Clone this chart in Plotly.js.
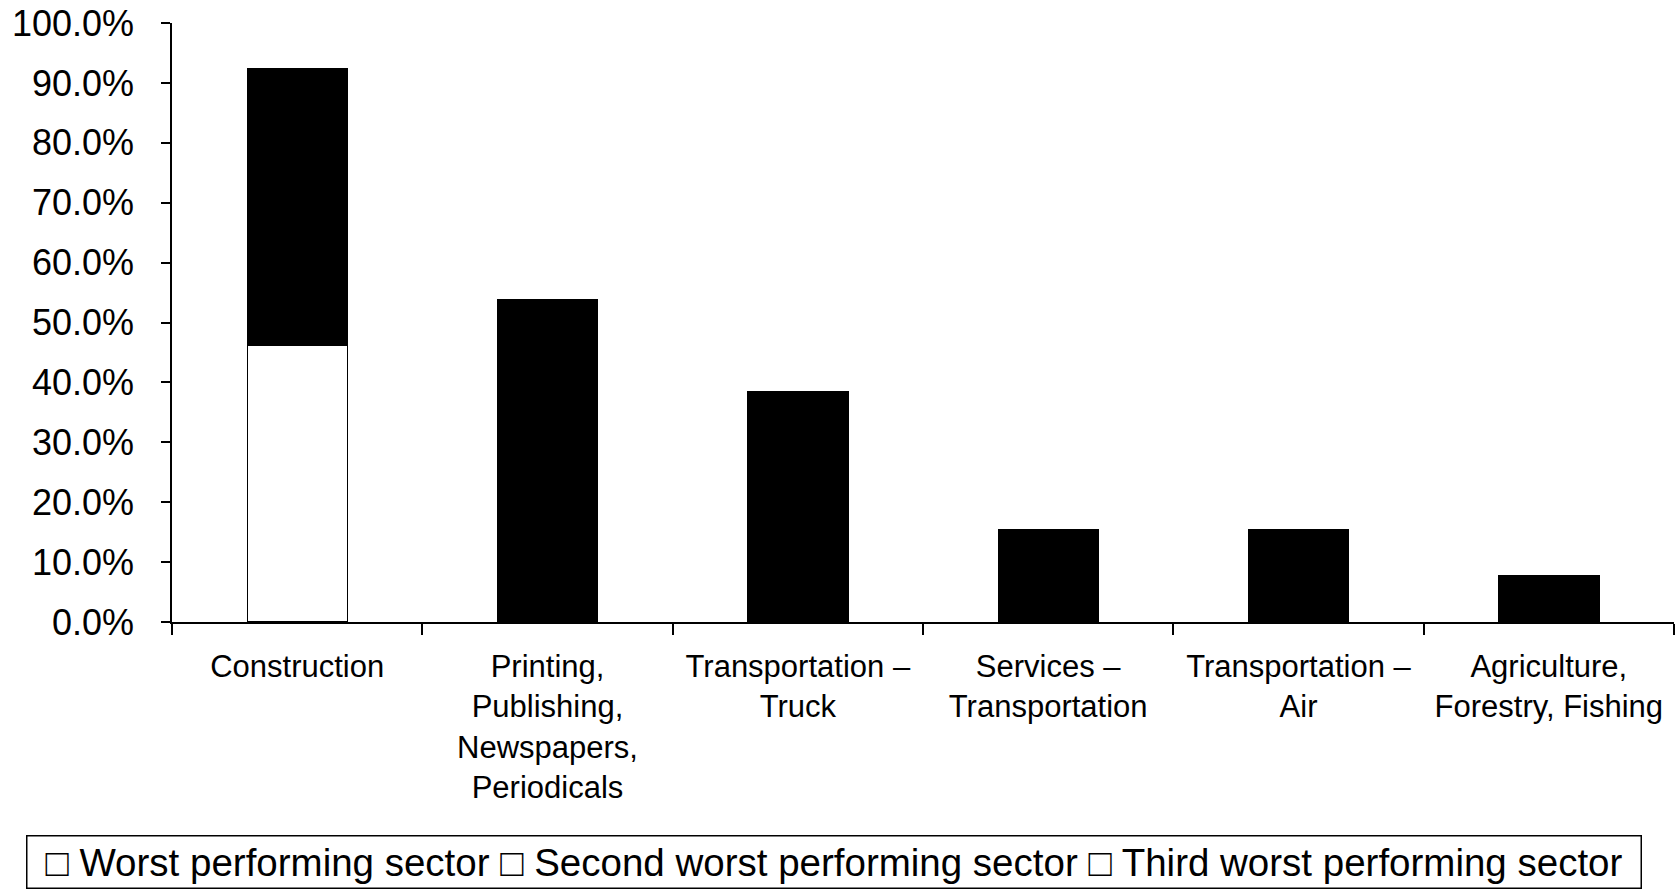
<!DOCTYPE html>
<html>
<head>
<meta charset="utf-8">
<script src="https://cdn.plot.ly/plotly-3.0.1.min.js"></script>
<style>
  html, body { margin: 0; padding: 0; background: #fff; }
  #chart_area { width: 1677px; height: 889px; }
</style>
</head>
<body>
<div id="chart_area"></div>
<script>
var sectors = [
  'Construction',
  'Printing,<br>Publishing,<br>Newspapers,<br>Periodicals',
  'Transportation \u2013<br>Truck',
  'Services \u2013<br>Transportation',
  'Transportation \u2013<br>Air',
  'Agriculture,<br>Forestry, Fishing'
];
var seriesNames = ['Worst performing sector', 'Second worst performing sector', 'Third worst performing sector'];
var worst  = [0.462, 0.077, 0.231, 0.077, 0.154, 0.000];
var second = [0.462, 0.154, 0.154, 0.077, 0.000, 0.077];
var third  = [0.000, 0.308, 0.000, 0.000, 0.000, 0.000];

var font = 'Liberation Sans, Arial, sans-serif';

var trace0 = {
  type: 'bar', name: seriesNames[0], x: sectors, y: worst,
  marker: { color: ['#ffffff', '#000000', '#000000', '#000000', '#000000', '#000000'], line: { color: '#000', width: 1.2 } }
};
var trace1 = {
  type: 'bar', name: seriesNames[1], x: sectors, y: second,
  marker: { color: '#000000', line: { color: '#000', width: 1.2 } }
};
var trace2 = {
  type: 'bar', name: seriesNames[2], x: sectors, y: third,
  marker: { color: '#000000', line: { color: '#000', width: 1.2 } }
};

var data = [ trace0, trace1, trace2 ];

// legend is drawn as a boxed line of text, the way the source shows it
var legendText = seriesNames.map(function (n) { return '\u25A1 ' + n; }).join(' ');

var layout = {
  width: 1677, height: 889,
  barmode: 'stack',
  bargap: 0.6,
  showlegend: false,
  paper_bgcolor: '#fff', plot_bgcolor: '#fff',
  margin: { l: 172, r: 3, t: 23, b: 267 },
  font: { family: font, color: '#000', size: 30 },
  xaxis: {
    type: 'category',
    showline: true, linecolor: '#000', linewidth: 1.5,
    ticks: 'outside', tickson: 'boundaries', ticklen: 11, tickcolor: '#000', tickwidth: 1.5,
    ticklabelstandoff: 16,
    tickfont: { family: font, size: 31 },
    showgrid: false, zeroline: false
  },
  yaxis: {
    range: [0, 1], dtick: 0.1, tickformat: '.1%',
    showline: true, linecolor: '#000', linewidth: 1.5,
    ticks: 'outside', ticklen: 9, tickcolor: '#000', tickwidth: 1.5,
    ticklabelstandoff: 20,
    tickfont: { family: font, size: 36 },
    showgrid: false, zeroline: false
  },
  annotations: [{
    xref: 'paper', yref: 'paper', x: 0.441, y: -0.4, xanchor: 'center', yanchor: 'middle',
    text: legendText, showarrow: false,
    font: { family: font, size: 38.5, color: '#000' },
    bordercolor: '#000', borderwidth: 1.5, borderpad: 2,
    width: 1609, height: 47, align: 'center'
  }]
};

var config = { responsive: false, displayModeBar: false };

Plotly.newPlot('chart_area', data, layout, config);
</script>
</body>
</html>
